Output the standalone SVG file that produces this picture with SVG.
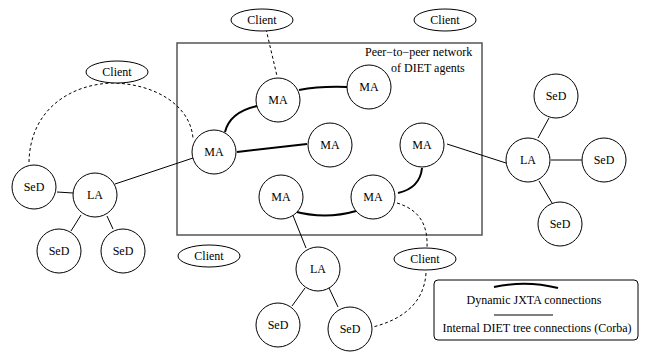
<svg xmlns="http://www.w3.org/2000/svg" width="648" height="352" viewBox="0 0 648 352">
<style>
text{font-family:"Liberation Serif","Times New Roman",serif;font-size:12px;fill:#000}
.n circle,.n ellipse{fill:#fff;stroke:#000;stroke-width:1}
.n text{text-anchor:middle;dominant-baseline:central}
.thin{fill:none;stroke:#000;stroke-width:1}
.thick{fill:none;stroke:#000;stroke-width:2}
.dash{fill:none;stroke:#000;stroke-width:1;stroke-dasharray:3,2.5}
</style>
<rect width="648" height="352" fill="#fff"/>
<rect id="p2p" x="177" y="43" width="305" height="192" fill="none" stroke="#555" stroke-width="1.5"/>
<text x="365" y="56">Peer−to−peer network</text>
<text x="391" y="72">of DIET agents</text>
<g id="connectors">
<path class="thick" d="M225,132 Q230,112 257,106"/>
<path class="thick" d="M299,90 Q320,86 347,87"/>
<path class="thick" d="M237,152 L307,144"/>
<path class="thick" d="M422,168 Q420,188 398,193"/>
<path class="thick" d="M293,211 Q325,220 356,211"/>
<path class="thin" d="M193,158 L115,184"/>
<path class="thin" d="M57,192 L73,193"/>
<path class="thin" d="M81,215 L71,231"/>
<path class="thin" d="M107,216 L113,229"/>
<path class="thin" d="M447,144 L506,163"/>
<path class="thin" d="M538,138 L549,118"/>
<path class="thin" d="M551,160 L582,160"/>
<path class="thin" d="M539,181 L552,203"/>
<path class="thin" d="M292,213 L306,248"/>
<path class="thin" d="M305,288 L292,306"/>
<path class="thin" d="M329,288 L338,307"/>
<path class="dash" d="M266,29 L277,76"/>
<path class="dash" d="M29,162 C30,110 70,84 113,83 C155,84 190,105 193,138"/>
<path class="dash" d="M397,203 C420,210 428,225 427,248"/>
<path class="dash" d="M426,273 C424,305 400,320 373,327"/>
</g>
<g id="ma1" class="n"><circle cx="278" cy="100" r="22"/><text x="278" y="100">MA</text></g>
<g id="ma2" class="n"><circle cx="369" cy="87" r="22"/><text x="369" y="87">MA</text></g>
<g id="ma3" class="n"><circle cx="214" cy="152" r="22"/><text x="214" y="152">MA</text></g>
<g id="ma4" class="n"><circle cx="330" cy="145" r="22"/><text x="330" y="145">MA</text></g>
<g id="ma5" class="n"><circle cx="422" cy="145" r="22"/><text x="422" y="145">MA</text></g>
<g id="ma6" class="n"><circle cx="281" cy="197" r="22"/><text x="281" y="197">MA</text></g>
<g id="ma7" class="n"><circle cx="373" cy="197" r="22"/><text x="373" y="197">MA</text></g>
<g id="client1" class="n"><ellipse cx="262" cy="20" rx="31" ry="11"/><text x="262" y="20">Client</text></g>
<g id="client2" class="n"><ellipse cx="445" cy="20" rx="31" ry="11"/><text x="445" y="20">Client</text></g>
<g id="client3" class="n"><ellipse cx="117" cy="72" rx="31" ry="11"/><text x="117" y="72">Client</text></g>
<g id="client4" class="n"><ellipse cx="209" cy="256" rx="31" ry="11"/><text x="209" y="256">Client</text></g>
<g id="client5" class="n"><ellipse cx="425" cy="259" rx="31" ry="11"/><text x="425" y="259">Client</text></g>
<g id="la1" class="n"><circle cx="95" cy="195" r="22"/><text x="95" y="195">LA</text></g>
<g id="sed1" class="n"><circle cx="34" cy="187" r="22"/><text x="34" y="187">SeD</text></g>
<g id="sed2" class="n"><circle cx="59" cy="251" r="22"/><text x="59" y="251">SeD</text></g>
<g id="sed3" class="n"><circle cx="123" cy="251" r="22"/><text x="123" y="251">SeD</text></g>
<g id="la2" class="n"><circle cx="528" cy="160" r="22"/><text x="528" y="160">LA</text></g>
<g id="sed4" class="n"><circle cx="556" cy="96" r="22"/><text x="556" y="96">SeD</text></g>
<g id="sed5" class="n"><circle cx="604" cy="160" r="22"/><text x="604" y="160">SeD</text></g>
<g id="sed6" class="n"><circle cx="560" cy="224" r="22"/><text x="560" y="224">SeD</text></g>
<g id="la3" class="n"><circle cx="318" cy="269" r="22"/><text x="318" y="269">LA</text></g>
<g id="sed7" class="n"><circle cx="278" cy="325" r="22"/><text x="278" y="325">SeD</text></g>
<g id="sed8" class="n"><circle cx="350" cy="329" r="22"/><text x="350" y="329">SeD</text></g>
<g id="legend">
<rect x="434" y="280" width="204" height="60" rx="4" fill="none" stroke="#000" stroke-width="1"/>
<path class="thick" d="M494,287 Q526,280 558,288"/>
<text x="534" y="304" text-anchor="middle">Dynamic JXTA connections</text>
<path class="thin" d="M494,315 L553,315"/>
<text x="537" y="332" text-anchor="middle">Internal DIET tree connections (Corba)</text>
</g>
</svg>
